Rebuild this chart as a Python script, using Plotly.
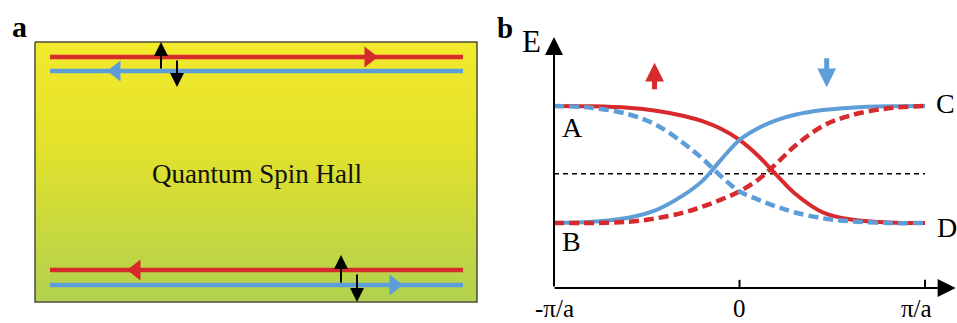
import plotly.graph_objects as go

# ---------------- data (panel b: band dispersion, k in units of pi/a, E normalised) ----------------
k = [-1.0, -0.8, -0.6, -0.45, -0.3, -0.2, -0.1, 0.0, 0.1, 0.2, 0.3, 0.45, 0.6, 0.8, 1.0]
red_solid = [1.0, 0.997, 0.985, 0.96, 0.915, 0.87, 0.805, 0.71, 0.575, 0.41, 0.25, 0.09, 0.03, 0.005, 0.0]
blue_solid = [0.0, 0.01, 0.045, 0.11, 0.24, 0.36, 0.54, 0.71, 0.81, 0.88, 0.925, 0.965, 0.985, 0.997, 1.0]
red_dashed = [0.0, 0.0, 0.01, 0.04, 0.09, 0.14, 0.20, 0.27, 0.37, 0.51, 0.66, 0.83, 0.92, 0.98, 1.0]
blue_dashed = [1.0, 0.985, 0.93, 0.84, 0.68, 0.55, 0.40, 0.27, 0.20, 0.14, 0.09, 0.04, 0.015, 0.0, 0.0]
fermi_level = 0.42
tick_vals = [-1, 0, 1]
tick_text = ["-π/a", "0", "π/a"]
point_labels = ["A", "B", "C", "D"]

RED = "#d62a2c"
BLUE = "#5e9ed8"
SERIF = "Liberation Serif"

fig = go.Figure()

# ---------------- panel a (schematic, axis units = pixels) ----------------
bx0, bx1, by0, by1 = 35, 477, 42, 302
fig.add_trace(go.Scatter(
    x=[bx0, bx1, bx1, bx0, bx0], y=[by0, by0, by1, by1, by0],
    xaxis="x2", yaxis="y2", mode="lines", fill="toself",
    fillgradient=dict(type="vertical", start=by1, stop=by0,
                      colorscale=[[0, "#b2d14f"], [0.3, "#cad93d"], [0.6, "#e3e22c"], [1, "#f2e92c"]]),
    line=dict(color="#4d4d3c", width=1.5), hoverinfo="skip", showlegend=False))

lx0, lx1 = 50, 463
edges = [(57, RED, "triangle-right", 369), (71, BLUE, "triangle-left", 116),
         (270, RED, "triangle-left", 136), (285, BLUE, "triangle-right", 394)]
for yy, col, sym, mx in edges:
    fig.add_trace(go.Scatter(x=[lx0, lx1], y=[yy, yy], xaxis="x2", yaxis="y2", mode="lines",
                             line=dict(color=col, width=4.5), hoverinfo="skip", showlegend=False))
    fig.add_trace(go.Scatter(x=[mx], y=[yy], xaxis="x2", yaxis="y2", mode="markers",
                             marker=dict(symbol=sym, size=18, color=col, line=dict(width=0)),
                             hoverinfo="skip", showlegend=False, cliponaxis=False))

spin_arrows = [(161, 70, 42), (177, 59, 87), (341, 284, 255), (357, 273, 302)]
for xx, ytail, ytip in spin_arrows:
    fig.add_annotation(x=xx, y=ytip, ax=xx, ay=ytail, xref="x2", yref="y2", axref="x2", ayref="y2",
                       text="", showarrow=True, arrowhead=2, arrowsize=1.4, arrowwidth=2,
                       arrowcolor="black", standoff=0)

fig.add_annotation(x=257, y=174, xref="x2", yref="y2", text="Quantum Spin Hall", showarrow=False,
                   font=dict(family=SERIF, size=27, color="#111"))
fig.add_annotation(x=19, y=26, xref="x2", yref="y2", text="<b>a</b>", showarrow=False,
                   font=dict(family=SERIF, size=30, color="black"))

# ---------------- panel b ----------------
fig.add_trace(go.Scatter(x=[-1, 1], y=[fermi_level, fermi_level], mode="lines",
                         line=dict(color="black", width=1.5, dash="5px,4px"),
                         hoverinfo="skip", showlegend=False))
for ys, col in [(red_solid, RED), (blue_solid, BLUE)]:
    fig.add_trace(go.Scatter(x=k, y=ys, mode="lines", line=dict(color=col, width=4, shape="spline"),
                             hoverinfo="skip", showlegend=False, cliponaxis=False))
for ys, col in [(red_dashed, RED), (blue_dashed, BLUE)]:
    fig.add_trace(go.Scatter(x=k, y=ys, mode="lines",
                             line=dict(color=col, width=4.5, shape="spline", dash="10px,5px"),
                             hoverinfo="skip", showlegend=False, cliponaxis=False))

E0 = -0.556  # axis origin level
fig.add_annotation(x=-1, y=1.59, ax=-1, ay=E0, xref="x", yref="y", axref="x", ayref="y",
                   text="", showarrow=True, arrowhead=2, arrowsize=1.8, arrowwidth=2,
                   arrowcolor="black", standoff=0)
fig.add_annotation(x=1.165, y=E0, ax=-1.005, ay=E0, xref="x", yref="y", axref="x", ayref="y",
                   text="", showarrow=True, arrowhead=2, arrowsize=1.8, arrowwidth=2,
                   arrowcolor="black", standoff=0)
for tv in tick_vals[1:]:
    fig.add_shape(type="line", x0=tv, x1=tv, y0=E0, y1=E0 + 0.07, xref="x", yref="y",
                  line=dict(color="black", width=2))
tick_pos = [-1.0, 0.0, 0.955]
for tp, tt in zip(tick_pos, tick_text):
    fig.add_annotation(x=tp, y=-0.73, xref="x", yref="y", text=tt, showarrow=False,
                       font=dict(family=SERIF, size=25, color="black"))

label_pos = [(-0.90, 0.82), (-0.905, -0.16), (1.113, 1.02), (1.118, -0.04)]
for (lx, ly), lt in zip(label_pos, point_labels):
    fig.add_annotation(x=lx, y=ly, xref="x", yref="y", text=lt, showarrow=False,
                       font=dict(family=SERIF, size=28, color="black"))
fig.add_annotation(x=-1.12, y=1.55, xref="x", yref="y", text="E", showarrow=False,
                   font=dict(family=SERIF, size=31, color="black"))
fig.add_annotation(x=-1.265, y=1.67, xref="x", yref="y", text="<b>b</b>", showarrow=False,
                   font=dict(family=SERIF, size=29, color="black"))

# spin arrows in panel b
fig.add_annotation(x=-0.458, y=1.37, ax=-0.458, ay=1.13, xref="x", yref="y", axref="x", ayref="y",
                   text="", showarrow=True, arrowhead=2, arrowsize=0.75, arrowwidth=5,
                   arrowcolor=RED, standoff=0)
fig.add_annotation(x=0.47, y=1.16, ax=0.47, ay=1.42, xref="x", yref="y", axref="x", ayref="y",
                   text="", showarrow=True, arrowhead=2, arrowsize=0.75, arrowwidth=5,
                   arrowcolor=BLUE, standoff=0)

ax_off = dict(visible=False, showgrid=False, zeroline=False, fixedrange=True)
fig.update_layout(
    width=957, height=323, margin=dict(l=0, r=0, t=0, b=0),
    paper_bgcolor="white", plot_bgcolor="rgba(0,0,0,0)", showlegend=False,
    xaxis=dict(domain=[490 / 957, 1], range=[-1.345, 1.1725], **ax_off),
    yaxis=dict(domain=[0, 1], range=[-0.8547, 1.906], **ax_off),
    xaxis2=dict(domain=[0, 0.5], range=[0, 478.5], anchor="y2", **ax_off),
    yaxis2=dict(domain=[0, 1], range=[323, 0], anchor="x2", **ax_off),
)

fig.write_html("out.html")
